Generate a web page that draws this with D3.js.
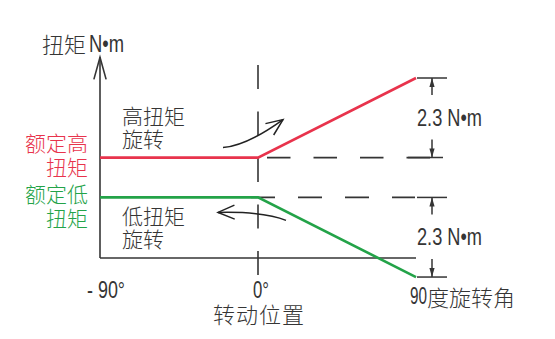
<!DOCTYPE html>
<html>
<head>
<meta charset="utf-8">
<script src="https://cdn.jsdelivr.net/npm/d3@7"></script>
<style>
  html, body { margin: 0; padding: 0; background: #fff; }
  .cjk { font-family: "Noto Sans CJK SC", sans-serif; font-weight: 300; }
  .num { font-family: "Liberation Sans", Arial, sans-serif; }
</style>
</head>
<body>
<div id="chart"></div>
<script>
// angles of rotation (deg) and torque curves (N·m, schematic)
const angles = [-90, 0, 90];
const highTorque = [2.9, 2.9, 5.2];
const lowTorque = [1.75, 1.75, -0.55];
const angleTicks = [-90, 0];
const angleTickLabels = ["- 90°", "0°"];
const torqueSpans = [[5.2, 2.9], [1.75, -0.55]];
const spanLabels = ["2.3 N•m", "2.3 N•m"];

const W = 555, H = 339;
const ink = "#353535", red = "#e8334c", green = "#23a348";

const svg = d3.select("#chart").append("svg")
    .attr("width", W)
    .attr("height", H);

const x = d3.scaleLinear().domain([-90, 90]).range([100, 416]);
const y = d3.scaleLinear().domain([0, 5.2]).range([258, 78]);
const x0 = x(0), yHigh = y(highTorque[0]), yLow = y(lowTorque[0]);

// small helper for open arrow heads
function openHead(tx, ty, ang, len, half) {
  const a1 = ang + Math.PI - half, a2 = ang + Math.PI + half;
  return "M" + (tx + len * Math.cos(a1)) + "," + (ty + len * Math.sin(a1)) +
         "L" + tx + "," + ty +
         "L" + (tx + len * Math.cos(a2)) + "," + (ty + len * Math.sin(a2));
}

// narrow numeric text (the original uses a condensed face)
function numText(str, xp, yp, len) {
  return svg.append("text").attr("class", "num")
      .attr("x", xp).attr("y", yp)
      .attr("font-size", 23).attr("fill", ink)
      .attr("textLength", len).attr("lengthAdjust", "spacingAndGlyphs")
      .text(str);
}

// axes
svg.append("line")
    .attr("x1", x(-90)).attr("x2", x(-90))
    .attr("y1", y(0)).attr("y2", y(5.8))
    .attr("stroke", ink).attr("stroke-width", 1.6);
svg.append("path")
    .attr("d", openHead(x(-90), y(5.8), -Math.PI / 2, 23, 0.27))
    .attr("fill", "none").attr("stroke", ink).attr("stroke-width", 1.6);
svg.append("line")
    .attr("x1", x(-90)).attr("x2", x(90))
    .attr("y1", y(0)).attr("y2", y(0))
    .attr("stroke", ink).attr("stroke-width", 1.6);

// vertical dashed line at 0 deg
svg.append("line")
    .attr("x1", x0).attr("x2", x0)
    .attr("y1", 65).attr("y2", y(0) + 17)
    .attr("stroke", ink).attr("stroke-width", 1.6)
    .attr("stroke-dasharray", "24 22.5");

// dashed reference lines for the rated torques
svg.append("line")
    .attr("x1", x0 + 9).attr("x2", x(90) + 14)
    .attr("y1", yHigh).attr("y2", yHigh)
    .attr("stroke", ink).attr("stroke-width", 1.6)
    .attr("stroke-dasharray", "23.5 23");
svg.append("line")
    .attr("x1", x0 - 7).attr("x2", x(90) - 1)
    .attr("y1", yLow).attr("y2", yLow)
    .attr("stroke", ink).attr("stroke-width", 1.6)
    .attr("stroke-dasharray", "24 23");

// torque curves
const line = d3.line()
    .x((d, i) => x(angles[i]))
    .y(d => y(d));
svg.append("path").datum(highTorque)
    .attr("d", line).attr("fill", "none")
    .attr("stroke", red).attr("stroke-width", 2.6);
svg.append("path").datum(lowTorque)
    .attr("d", line).attr("fill", "none")
    .attr("stroke", green).attr("stroke-width", 2.6);

// curved direction arrows
function curvedArrow(p0, c, p1) {
  svg.append("path")
      .attr("d", "M" + p0 + "Q" + c + " " + p1)
      .attr("fill", "none").attr("stroke", "#222").attr("stroke-width", 1.5);
  const ang = Math.atan2(p1[1] - c[1], p1[0] - c[0]);
  svg.append("path")
      .attr("d", openHead(p1[0], p1[1], ang, 18, 0.4))
      .attr("fill", "none").attr("stroke", "#222").attr("stroke-width", 1.5);
}
curvedArrow([x0 - 35, yHigh - 10], [x0 - 11, yHigh - 12], [x0 + 25, yHigh - 38]);
curvedArrow([x0 + 28, yLow + 23], [x0 + 7, yLow + 14], [x0 - 40, yLow + 15]);

// dimension markers on the right
const dimX = x(90) + 16;
torqueSpans.forEach((s, i) => {
  const yt = y(s[0]), yb = y(s[1]);
  const g = svg.append("g").attr("stroke", ink).attr("stroke-width", 1.5);
  g.append("line").attr("x1", x(90) + 1).attr("x2", x(90) + 31).attr("y1", yt).attr("y2", yt);
  g.append("line").attr("x1", x(90) + (i === 0 ? -8 : 1)).attr("x2", x(90) + (i === 0 ? 27 : 31))
      .attr("y1", yb).attr("y2", yb);
  g.append("line").attr("x1", dimX).attr("x2", dimX).attr("y1", yt).attr("y2", yt + 17);
  g.append("line").attr("x1", dimX).attr("x2", dimX).attr("y1", yb).attr("y2", yb - 18);
  svg.append("path")
      .attr("d", `M${dimX},${yt}L${dimX - 2.6},${yt + 9}L${dimX + 2.6},${yt + 9}Z`)
      .attr("fill", ink);
  svg.append("path")
      .attr("d", `M${dimX},${yb}L${dimX - 2.6},${yb - 9}L${dimX + 2.6},${yb - 9}Z`)
      .attr("fill", ink);
  numText(spanLabels[i], x(90) + 1, (yt + yb) / 2 + 8, 65);
});

// tick labels on the angle axis
angleTicks.forEach((d, i) => {
  numText(angleTickLabels[i], i === 0 ? x(d) - 13 : x(d) - 5, y(0) + 40, i === 0 ? 38 : 16);
});

svg.append("text").attr("class", "cjk")
    .attr("x", x0 + 1).attr("y", 313)
    .attr("text-anchor", "middle").attr("dominant-baseline", "central")
    .attr("font-size", 22).attr("letter-spacing", 1).attr("fill", ink)
    .text("转动位置");

// end label at 90 deg
numText("90", x(90) - 6, 304, 17);
svg.append("text").attr("class", "cjk")
    .attr("x", x(90) + 11).attr("y", 296)
    .attr("dominant-baseline", "central")
    .attr("font-size", 22).attr("fill", ink)
    .text("度旋转角");

// y axis title
svg.append("text").attr("class", "cjk")
    .attr("x", 42).attr("y", 43)
    .attr("dominant-baseline", "central")
    .attr("font-size", 22).attr("fill", ink)
    .text("扭矩");
numText("N•m", 89, 52, 35);

// rated torque labels
function block(lines, xp, ys, color, anchor) {
  lines.forEach((t, i) => {
    svg.append("text").attr("class", "cjk")
        .attr("x", xp).attr("y", ys[i])
        .attr("text-anchor", anchor).attr("dominant-baseline", "central")
        .attr("font-size", 21).attr("fill", color)
        .text(t);
  });
}
block(["额定高", "扭矩"], 88, [yHigh - 16, yHigh + 8], red, "end");
block(["额定低", "扭矩"], 88, [yLow - 4, yLow + 20], green, "end");
block(["高扭矩", "旋转"], 122, [yHigh - 43, yHigh - 20], ink, "start");
block(["低扭矩", "旋转"], 122, [yLow + 18, yLow + 41], ink, "start");
</script>
</body>
</html>
